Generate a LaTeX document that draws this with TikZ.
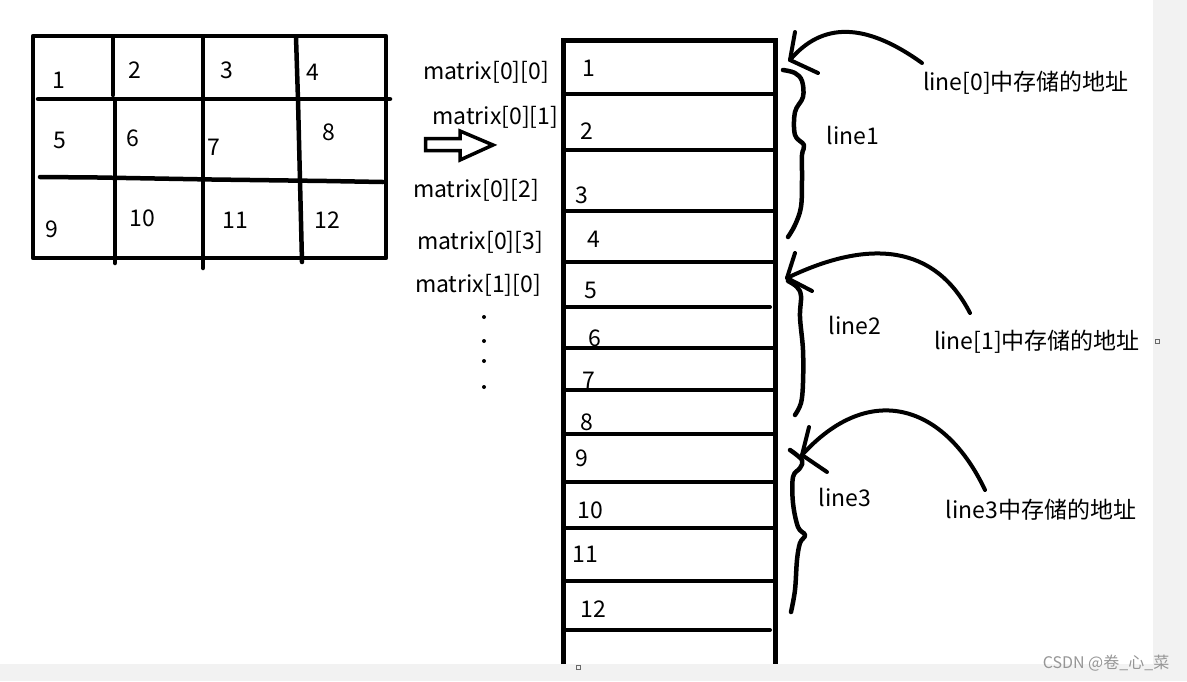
\documentclass[tikz,border=0pt]{standalone}
\usepackage{fontspec}
\setmainfont{Noto Sans CJK SC}
\definecolor{bggray}{RGB}{242,242,242}
\definecolor{wmgray}{RGB}{150,150,150}
\tikzset{
  ink/.style={line width=4.5pt, line cap=round, line join=round},
  inkthin/.style={line width=4pt, line cap=round, line join=round},
  lbl/.style={inner sep=0pt, font=\fontsize{23}{27}\selectfont},
  curvearrow/.style={line width=4pt, line cap=round, line join=round},
}
\begin{document}
\begin{tikzpicture}[x=1pt,y=-1pt]
\useasboundingbox (0,0) rectangle (1187,681);
\fill[bggray] (0,0) rectangle (1187,681);
\fill[white] (0,0) rectangle (1153,664);

% ---------- left grid ----------
\draw[ink] (33,36) rectangle (386,258);
\draw[ink] (38,99) -- (390,99);
\draw[ink] (40,177) -- (98,177.5) -- (212,179.5) -- (327,181) -- (383,182);
\draw[ink] (113,37) -- (113,95) (115,100) -- (115,263);
\draw[ink] (203,37) -- (203,268);
\draw[ink] (296,37) -- (298,100) -- (302,262);

\node[lbl] (g1) at (59,80) {1};
\node[lbl] (g2) at (135,70) {2};
\node[lbl] (g3) at (227,70) {3};
\node[lbl] (g4) at (313,72) {4};
\node[lbl] (g5) at (60,140) {5};
\node[lbl] (g6) at (133,138) {6};
\node[lbl] (g7) at (214,147) {7};
\node[lbl] (g8) at (329,132) {8};
\node[lbl] (g9) at (52,229) {9};
\node[lbl] (g10) at (142,218) {10};
\node[lbl] (g11) at (235,220) {11};
\node[lbl] (g12) at (327,220) {12};

% ---------- middle labels ----------
\node[lbl] (m00) at (486,72) {matrix[0][0]};
\node[lbl, anchor=west] (m01) at (432,117) {matrix[0][1]};
\node[lbl] (m02) at (476,190) {matrix[0][2]};
\node[lbl] (m03) at (480,242) {matrix[0][3]};
\node[lbl] (m10) at (478,285) {matrix[1][0]};

\draw[line width=3.5pt, line join=miter] (425.5,138.5) -- (460,138.5) -- (460,131) -- (493,145) -- (460,160) -- (460,150.5) -- (425.5,150.5) -- cycle;

\fill (484,317) circle (2);
\fill (484,341) circle (2);
\fill (484,361) circle (2);
\fill (484,387) circle (2);

% ---------- memory column ----------
\fill[white] (563,40) rectangle (775,664);
\draw[line width=5pt, line join=miter] (563,664) -- (563,40) -- (775,40) -- (775,664);
\foreach \yy/\xa/\xb in {94/563/775, 150/563/775, 211/565/775, 262/565/773, 307/565/770, 348/565/775, 390/565/775, 434/563/775, 482/563/775, 528/565/775, 581/563/775, 630/563/770}
  \draw[inkthin] (\xa,\yy) -- (\xb,\yy);

\node[lbl] (c1) at (589,68) {1};
\node[lbl] (c2) at (587,131) {2};
\node[lbl] (c3) at (582,195) {3};
\node[lbl] (c4) at (594,239) {4};
\node[lbl] (c5) at (591,290) {5};
\node[lbl] (c6) at (595,338) {6};
\node[lbl] (c7) at (589,380) {7};
\node[lbl] (c8) at (587,422) {8};
\node[lbl] (c9) at (582,458) {9};
\node[lbl] (c10) at (590,510) {10};
\node[lbl] (c11) at (585,554) {11};
\node[lbl] (c12) at (593,609) {12};

\draw[line width=1pt, wmgray!70!black] (576,665) rectangle (580,669);

% ---------- braces ----------
\draw[ink] plot[smooth, tension=0.6] coordinates {(783,70) (795,73) (802,81) (803,97) (795,112) (795,135) (804,145) (802,155) (802,180) (801,207) (795,225) (788,237)};
\draw[ink] plot[smooth, tension=0.6] coordinates {(788,281) (797,287) (801,296) (800,317) (803,350) (803,383) (801,403) (795,415)};
\draw[ink] plot[smooth, tension=0.6] coordinates {(790,450) (802,460) (800,468) (793,477) (793,503) (798,527) (805,535) (800,543) (797,560) (795,590) (791,612)};

\node[lbl] (b1) at (853,135) {line1};
\node[lbl] (b2) at (855,325) {line2};
\node[lbl] (b3) at (845,497) {line3};

% ---------- address labels and arrows ----------
\node[lbl] (a0) at (1026,83) {line[0]中存储的地址};
\node[lbl] (a1) at (1037,342) {line[1]中存储的地址};
\node[lbl] (a3) at (1041,510) {line3中存储的地址};

\coordinate (s0) at (922,63);
\coordinate (t0) at (790,60);
\coordinate (s1) at (970,313);
\coordinate (t1) at (787,278);
\coordinate (s3) at (985,490);
\coordinate (t3) at (802,455);

\draw[curvearrow] (s0) .. controls (865,22) and (822,22) .. (t0);
\draw[curvearrow] (t0) -- (795,32) (t0) -- (818,73);
\draw[curvearrow] (s1) .. controls (935,245) and (870,238) .. (t1);
\draw[curvearrow] (t1) -- (795,253) (t1) -- (812,291);
\draw[curvearrow] (s3) .. controls (945,405) and (870,380) .. (t3);
\draw[curvearrow] (t3) -- (809,427) (t3) -- (827,472);

\draw[line width=1pt, wmgray!70!black] (1155,339) rectangle (1159,343);

% ---------- watermark ----------
\node[inner sep=0pt, text=wmgray, font=\fontsize{16}{18}\selectfont] (wm) at (1106,663) {CSDN @卷\_心\_菜};
\end{tikzpicture}
\end{document}
